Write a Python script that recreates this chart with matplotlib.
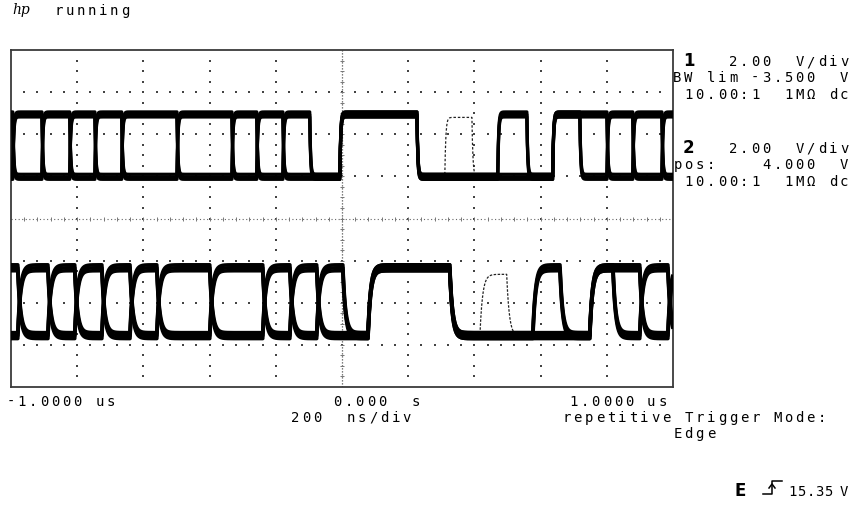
import numpy as np
import matplotlib
matplotlib.use("Agg")
import matplotlib.pyplot as plt

W, H = 852, 506

# ---- acquisition data -------------------------------------------------------
# edge times (ns) and logic state of each interval for two bit patterns
ch1_edges_ns = [-994, -906, -822, -746, -665, -498, -332, -257, -178, -97,
                -6, 227, 471, 559, 637, 719, 801, 879, 967]
ch1_bits_a = "01010101010101010101"
ch1_bits_b = "10101010100100011010"
ch1_hi_v = [1.56, 1.44, 1.32]     # high levels seen over repeated sweeps (V)
ch1_lo_v = [-1.40, -1.52, -1.64]  # low levels seen over repeated sweeps (V)
ch1_ghost_edges_ns = [311, 393]
ch1_ghost_bits = "010"
ch1_ghost_levels_v = [1.30, -1.55]

ch2_edges_ns = [-979, -888, -807, -725, -640, -559, -399, -239, -157, -76,
                3, 79, 326, 577, 659, 749, 819, 900, 985]
ch2_bits_a = "10101010101010101010"
ch2_bits_b = "01010101010010001101"
ch2_hi_v = [1.80, 1.66, 1.52]
ch2_lo_v = [-1.42, -1.56, -1.70]
ch2_ghost_edges_ns = [417, 498]
ch2_ghost_bits = "010"
ch2_ghost_levels_v = [1.35, -1.60]

# channel settings as shown on screen
ch1_scale_v, ch1_offset_v = 2.00, -3.500
ch2_scale_v, ch2_offset_v = 2.00, 4.000
time_span_ns = (-1000, 1000)


def sweep(edges, bits, hi, lo, tau_ns, t):
    """Ideal bit waveform passed through a first-order response."""
    idx = np.searchsorted(np.asarray(edges), t, side="right")
    ideal = np.where(np.array([int(b) for b in bits])[idx] == 1, hi, lo)
    out = np.empty_like(ideal, dtype=float)
    out[0] = ideal[0]
    dt = t[1] - t[0]
    a = 1.0 - np.exp(-dt / tau_ns)
    for n in range(1, len(t)):
        out[n] = out[n - 1] + a * (ideal[n] - out[n - 1])
    return out


def to_div(v, scale, offset):
    return (np.asarray(v) - offset) / scale


t = np.arange(time_span_ns[0], time_span_ns[1] + 0.5, 0.5)

fig = plt.figure(figsize=(W / 100, H / 100), dpi=100)
fig.patch.set_facecolor("white")
ax = fig.add_axes([11 / W, (H - 388) / H, 662 / W, 337 / H])
ax.set_xlim(*time_span_ns)
ax.set_ylim(-4, 4)
ax.set_xticks([])
ax.set_yticks([])
for sp in ax.spines.values():
    sp.set_linewidth(1.3)
    sp.set_color("#3a3a3a")

# ---- graticule ---------------------------------------------------------------
div_ns = (time_span_ns[1] - time_span_ns[0]) / 10
gx, gy = [], []
for r in [-3, -2, -1, 1, 2, 3]:
    for k in range(1, 50):
        gx.append(time_span_ns[0] + k * div_ns / 5)
        gy.append(r)
for c in [-4, -3, -2, -1, 1, 2, 3, 4]:
    for k in range(1, 32):
        gx.append(c * div_ns)
        gy.append(-4 + k * 0.25)
ax.scatter(gx, gy, s=1.6, marker="s", color="#444444", linewidths=0, zorder=1)
ax.axhline(0, color="#666666", lw=0.8, ls=(0, (1, 2.2)), zorder=1)
ax.axvline(0, color="#555555", lw=0.9, ls=(0, (1, 1.4)), zorder=1)
ax.scatter([time_span_ns[0] + k * div_ns / 5 for k in range(1, 50)], [0] * 49,
           s=8, marker="|", color="#777777", linewidths=0.7, zorder=1)
ax.scatter([0] * 31, [-4 + k * 0.25 for k in range(1, 32)],
           s=8, marker="_", color="#777777", linewidths=0.7, zorder=1)

# ---- traces ------------------------------------------------------------------
for bits in (ch1_bits_a, ch1_bits_b):
    for hi, lo in zip(ch1_hi_v, ch1_lo_v):
        v = sweep(ch1_edges_ns, bits, hi, lo, 2.5, t)
        ax.plot(t, to_div(v, ch1_scale_v, ch1_offset_v), color="black",
                lw=2.3, solid_capstyle="butt", zorder=3)

# occasional runt sweeps: only the part that leaves the main trace is visible
v = sweep(ch1_ghost_edges_ns, ch1_ghost_bits, *ch1_ghost_levels_v, 3, t)
win = (t > ch1_ghost_edges_ns[0] - 5) & (t < ch1_ghost_edges_ns[-1] + 25)
ax.plot(t[win], to_div(v, ch1_scale_v, ch1_offset_v)[win], color="#222222",
        lw=0.9, ls=(0, (2, 1.5)), zorder=2)

for bits in (ch2_bits_a, ch2_bits_b):
    for hi, lo in zip(ch2_hi_v, ch2_lo_v):
        v = sweep(ch2_edges_ns, bits, hi, lo, 8, t)
        ax.plot(t, to_div(v, ch2_scale_v, ch2_offset_v), color="black",
                lw=2.6, solid_capstyle="butt", zorder=3)

v = sweep(ch2_ghost_edges_ns, ch2_ghost_bits, *ch2_ghost_levels_v, 8, t)
win = (t > ch2_ghost_edges_ns[0] - 5) & (t < ch2_ghost_edges_ns[-1] + 35)
ax.plot(t[win], to_div(v, ch2_scale_v, ch2_offset_v)[win], color="#222222",
        lw=0.9, ls=(0, (2, 1.2)), zorder=2)

# ---- screen annotations ------------------------------------------------------
PITCH = 11.1
MONO = "DejaVu Sans Mono"


def mono(x0, base, s, size=10.0, pitch=PITCH):
    for i, ch in enumerate(s):
        if ch != " ":
            fig.text((x0 + i * pitch + pitch / 2) / W, 1 - base / H, ch,
                     ha="center", va="baseline", family=MONO, fontsize=size,
                     color="black")


def big(x, base, s):
    fig.text(x / W, 1 - base / H, s, ha="left", va="baseline",
             family="DejaVu Sans", fontweight="bold", fontsize=12)


fig.text(12 / W, 1 - 14 / H, "hp", family="DejaVu Serif", style="italic",
         fontsize=10, ha="left", va="baseline")
mono(53, 15, "running")

big(683, 66, "1")
mono(672, 66, "     2.00  V/div")
mono(672, 82, "BW lim -3.500  V")
mono(672, 99, " 10.00:1  1MΩ dc")
big(683, 153, "2")
mono(672, 153, "     2.00  V/div")
mono(672, 169, "pos:    4.000  V")
mono(672, 186, " 10.00:1  1MΩ dc")

mono(5, 406, "-1.0000 us")
mono(332, 406, "0.000  s")
mono(568, 406, "1.0000 us")
mono(290, 422, "200  ns/div")
mono(561, 422, "repetitive Trigger Mode:")
mono(672, 438, "Edge")

big(734, 496, "E")
# rising-edge trigger glyph
fig.add_artist(plt.Line2D(np.array([763, 772, 772, 782]) / W,
                          1 - np.array([495, 495, 482, 482]) / H,
                          color="black", lw=1.1))
fig.add_artist(plt.Line2D(np.array([769, 772, 775]) / W,
                          1 - np.array([489, 485, 489]) / H,
                          color="black", lw=1.1))
mono(788, 496, "15.35", pitch=9.0)
mono(838, 496, "V")

fig.savefig("out.png", dpi=100, facecolor="white")
